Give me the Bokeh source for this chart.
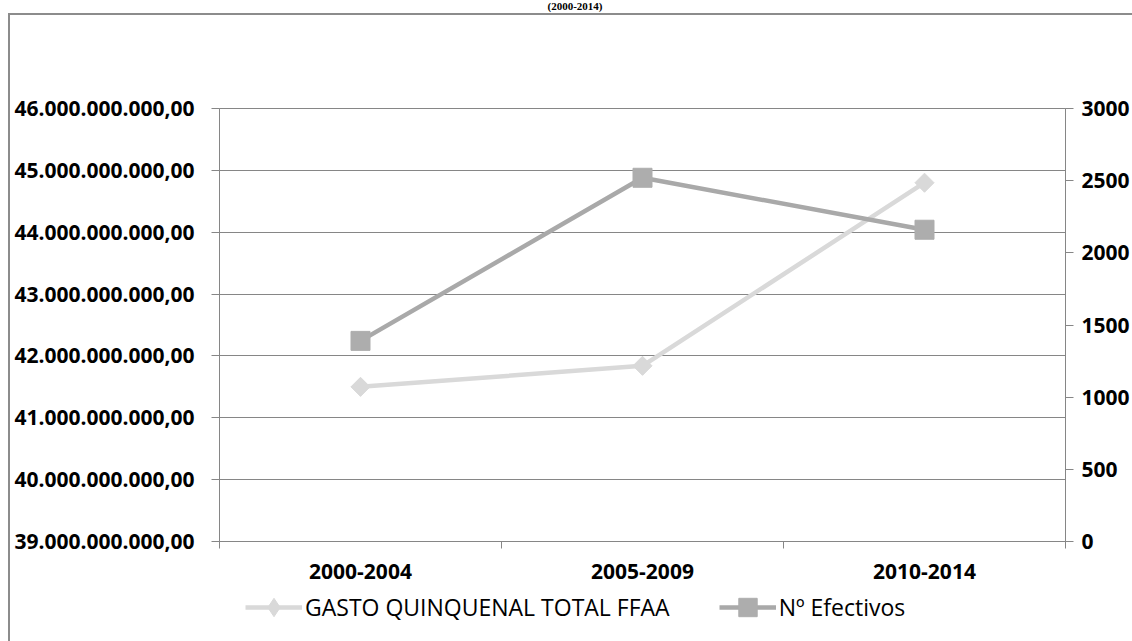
import math

from bokeh.embed import file_html
from bokeh.layouts import column
from bokeh.models import (Div, FixedTicker, InlineStyleSheet, Legend,
                          LegendItem, LinearAxis, Range1d)
from bokeh.plotting import figure
from bokeh.resources import INLINE

# --- data -------------------------------------------------------------------
periods = ["2000-2004", "2005-2009", "2010-2014"]
gasto_total = [41.50e9, 41.84e9, 44.80e9]        # gasto quinquenal total FFAA
efectivos = [1390, 2520, 2160]                   # nº efectivos
gasto_ticks = [39e9, 40e9, 41e9, 42e9, 43e9, 44e9, 45e9, 46e9]
efectivos_ticks = [0, 500, 1000, 1500, 2000, 2500, 3000]
title_text = "(2000-2014)"
gasto_label = "GASTO QUINQUENAL TOTAL FFAA"
efectivos_label = "Nº Efectivos"

GRID = "#868686"
LIGHT = "#d9d9d9"
DARK = "#a9a9a9"
DARK_MARK = "#adadad"
FONT = "Open Sans"
W = 1132
LEFT, RIGHT = 219, 65          # side borders shared by all rows of the page


def strip(height):
    """An axis-less row whose frame lines up with the chart's plot area."""
    f = figure(width=W, height=height,
               x_range=Range1d(LEFT, W - RIGHT), y_range=Range1d(height, 0),
               output_backend="svg", toolbar_location=None,
               x_axis_location=None, y_axis_location=None,
               min_border_left=LEFT, min_border_right=RIGHT,
               min_border_top=0, min_border_bottom=0,
               outline_line_color=None,
               background_fill_color="white", border_fill_color="white")
    f.xgrid.visible = False
    f.ygrid.visible = False
    return f


def es_number(v):
    """Spanish style: dot thousands separator, comma decimals."""
    s = f"{v:,.2f}"
    return s.replace(",", "_").replace(".", ",").replace("_", ".")


# --- title row ----------------------------------------------------------------
title_row = Div(text=title_text, width=W, height=13,
                styles={"font-family": "'Liberation Serif', serif",
                        "font-weight": "bold", "font-size": "11px",
                        "line-height": "12px", "text-align": "center",
                        "text-indent": "18px", "color": "black",
                        "margin": "0", "padding": "0"})

# --- main chart ---------------------------------------------------------------
# category centres on a numeric axis so ticks can sit on the boundaries
xs = [i + 0.5 for i in range(len(periods))]
boundaries = list(range(len(periods) + 1))

p = figure(width=W, height=579,
           x_range=Range1d(0, len(periods)),
           y_range=Range1d(gasto_ticks[0], gasto_ticks[-1]),
           output_backend="svg", toolbar_location=None,
           min_border_left=LEFT, min_border_right=RIGHT,
           min_border_top=95, min_border_bottom=51,
           outline_line_color=GRID, outline_line_width=1,
           background_fill_color="white", border_fill_color="white")
p.extra_y_ranges = {"efectivos": Range1d(efectivos_ticks[0], efectivos_ticks[-1])}


def style_axis(ax, standoff):
    ax.axis_line_color = GRID
    ax.axis_line_width = 1
    ax.major_tick_line_color = GRID
    ax.minor_tick_line_color = GRID
    ax.major_tick_in = 0
    ax.major_tick_out = 8
    ax.minor_tick_in = 0
    ax.minor_tick_out = 0
    ax.major_label_text_font = FONT
    ax.major_label_text_font_style = "bold"
    ax.major_label_text_font_size = "21px"
    ax.major_label_text_color = "black"
    ax.major_label_standoff = standoff


# left axis: gasto
yl = p.yaxis[0]
yl.ticker = FixedTicker(ticks=gasto_ticks)
yl.major_label_overrides = {int(t): es_number(t) for t in gasto_ticks}
style_axis(yl, 17)

# right axis: efectivos
yr = LinearAxis(y_range_name="efectivos",
                ticker=FixedTicker(ticks=efectivos_ticks))
style_axis(yr, 8)
p.add_layout(yr, "right")

# bottom axis: labels at centres, tick marks at category boundaries
xa = p.xaxis[0]
xa.ticker = FixedTicker(ticks=xs, minor_ticks=boundaries)
xa.major_label_overrides = {x: lab for x, lab in zip(xs, periods)}
style_axis(xa, 15)
xa.major_tick_out = 0
xa.minor_tick_out = 7

p.xgrid.visible = False
p.ygrid.ticker = FixedTicker(ticks=gasto_ticks)
p.ygrid.grid_line_color = GRID
p.ygrid.grid_line_width = 1

gasto_line_style = dict(line_color=LIGHT, line_width=4.5)
gasto_mark_style = dict(marker="square", angle=math.pi / 4, size=13.5,
                        fill_color=LIGHT, line_color=LIGHT)
efect_line_style = dict(line_color=DARK, line_width=4.5)
efect_mark_style = dict(marker="square", size=19,
                        fill_color=DARK_MARK, line_color=DARK_MARK)

p.line(xs, gasto_total, **gasto_line_style)
p.scatter(xs, gasto_total, **gasto_mark_style)
p.line(xs, efectivos, y_range_name="efectivos", **efect_line_style)
p.scatter(xs, efectivos, y_range_name="efectivos", **efect_mark_style)

# --- legend row ---------------------------------------------------------------
# the legend row carries the same series (they fall outside its own small
# frame, so only their legend swatches show); legend swatches ignore angle,
# so the gasto swatch uses the diamond marker
legend_row = strip(49)
lg_g = [legend_row.line(xs, gasto_total, **gasto_line_style),
        legend_row.scatter(xs, gasto_total, marker="diamond",
                           fill_color=LIGHT, line_color=LIGHT)]
lg_e = [legend_row.line(xs, efectivos, **efect_line_style),
        legend_row.scatter(xs, efectivos, **efect_mark_style)]
legend = Legend(
    items=[LegendItem(label=gasto_label, renderers=lg_g),
           LegendItem(label=efectivos_label, renderers=lg_e)],
    orientation="horizontal", location=(26, 11),
    glyph_width=57, glyph_height=46, label_standoff=3, spacing=49,
    padding=0, margin=0, border_line_color=None, background_fill_alpha=0,
    label_text_font=FONT, label_text_font_size="23px",
    label_text_color="black")
legend_row.add_layout(legend)

# thin frame around the whole chart area (its left and top edges are in view)
chart_border = InlineStyleSheet(css="""
:host::after {
  content: "";
  position: absolute;
  left: 8px; top: 13px; right: 0; bottom: 0;
  border-left: 2px solid #8c8c8c;
  border-top: 2px solid #8c8c8c;
  pointer-events: none;
}
""")

page = column(title_row, p, legend_row, spacing=0, stylesheets=[chart_border])

open("out.html", "w").write(file_html(page, INLINE))
